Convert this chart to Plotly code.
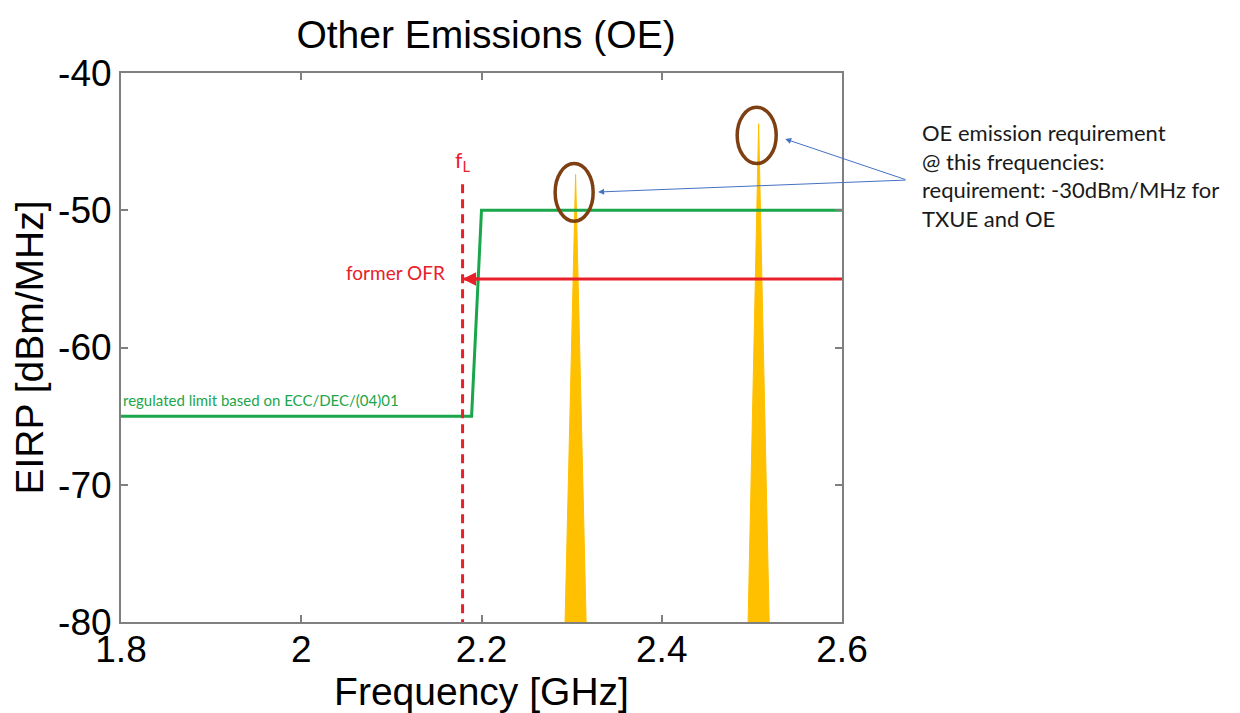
import plotly.graph_objects as go

# ---- data ----
limit_freq = [1.8, 2.189, 2.2, 2.6]          # GHz
limit_eirp = [-65, -65, -50, -50]            # dBm/MHz
f_L = 2.179                                   # GHz
f_L_top = -47.9
former_ofr = -55.0
spike_freq = [2.3044, 2.5075]                 # GHz
spike_peak = [-47.4, -43.7]                   # dBm/MHz
spike_halfwidth = 0.0117                      # GHz at -80 dBm
floor_level = -80
ellipse_x0 = [2.2817, 2.4837]
ellipse_x1 = [2.3239, 2.5270]
ellipse_y0 = [-50.8, -46.6]
ellipse_y1 = [-46.6, -42.5]
note_tail = (2.672, -47.8)
note_heads = [(2.3294, -48.67), (2.537, -44.81)]
note_lines = ["OE emission requirement", "@ this frequencies:",
              "requirement: -30dBm/MHz for", "TXUE and OE"]
x_ticks = [1.8, 2.0, 2.2, 2.4, 2.6]
x_ticklabels = ["1.8", "2", "2.2", "2.4", "2.6"]
y_ticks = [-80, -70, -60, -50, -40]
y_ticklabels = ["-80", "-70", "-60", "-50", "-40"]

GREEN = "#1AA64A"
RED = "#E8202A"
YELLOW = "#FFC000"
BROWN = "#7E3F12"
BLUE = "#4472C4"
AX = "#808080"

fig = go.Figure()

# emission spikes (filled triangles)
for c, p in zip(spike_freq, spike_peak):
    fig.add_trace(go.Scatter(
        x=[c - spike_halfwidth, c, c + spike_halfwidth, c - spike_halfwidth],
        y=[floor_level, p, floor_level, floor_level],
        fill="toself", fillcolor=YELLOW, mode="lines",
        line=dict(color=YELLOW, width=1), hoverinfo="skip", showlegend=False))

# regulated limit
fig.add_trace(go.Scatter(x=limit_freq, y=limit_eirp, mode="lines",
                         line=dict(color=GREEN, width=3), showlegend=False))

# former OFR line
fig.add_trace(go.Scatter(x=[f_L, 2.6], y=[former_ofr, former_ofr], mode="lines",
                         line=dict(color=RED, width=3), showlegend=False))

# f_L dashed line
fig.add_shape(type="line", x0=f_L, x1=f_L, y0=floor_level - 0.45, y1=f_L_top,
              xref="x", yref="y", line=dict(color=RED, width=3, dash="9px,6px"))

# ellipses
for x0, x1, y0, y1 in zip(ellipse_x0, ellipse_x1, ellipse_y0, ellipse_y1):
    fig.add_shape(type="circle", x0=x0, x1=x1, y0=y0, y1=y1, xref="x", yref="y",
                  line=dict(color=BROWN, width=3.5))

# former OFR arrow head
fig.add_annotation(x=f_L, y=former_ofr, ax=f_L + 0.02, ay=former_ofr, axref="x", ayref="y",
                   xref="x", yref="y", showarrow=True, arrowhead=2, arrowsize=0.9,
                   arrowwidth=3, arrowcolor=RED, text="")
fig.add_annotation(x=f_L - 0.017, y=former_ofr + 0.45, xref="x", yref="y", text="former OFR",
                   showarrow=False, xanchor="right", yanchor="middle",
                   font=dict(family="Lato", size=19, color=RED))
fig.add_annotation(x=f_L, y=f_L_top + 0.3, xref="x", yref="y",
                   text="f<sub>L</sub>", showarrow=False, xanchor="center", yanchor="bottom",
                   font=dict(family="Lato", size=21, color=RED))

# green label
fig.add_annotation(x=1.8005, y=-63.8, xref="x", yref="y",
                   text="regulated limit based on ECC/DEC/(04)01", showarrow=False,
                   xanchor="left", yanchor="middle",
                   font=dict(family="Lato", size=15, color=GREEN))

# blue arrows
for hx, hy in note_heads:
    fig.add_annotation(x=hx, y=hy, ax=note_tail[0], ay=note_tail[1], axref="x", ayref="y",
                       xref="x", yref="y", showarrow=True, arrowhead=2, arrowsize=1.2,
                       arrowwidth=1, arrowcolor=BLUE, text="")

# note text
fig.add_annotation(x=1.108, y=0.92, xref="paper", yref="paper", text="<br>".join(note_lines),
                   showarrow=False, xanchor="left", yanchor="top", align="left",
                   font=dict(family="Lato", size=22, color="#1a1a1a"))

fig.update_layout(
    width=1232, height=705,
    margin=dict(l=113, r=398, t=65, b=91),
    paper_bgcolor="white", plot_bgcolor="white",
    font=dict(family="Liberation Sans, Arial", color="black"),
    title=dict(text="Other Emissions (OE)", x=0.388, xanchor="center", y=0.962, yanchor="middle",
               font=dict(family="Liberation Sans", size=39, color="black")),
    showlegend=False,
)
fig.update_xaxes(range=[1.8, 2.6], tickvals=x_ticks, ticktext=x_ticklabels, automargin=False,
                 showgrid=False, zeroline=False, showline=True, linecolor=AX, linewidth=2,
                 mirror="ticks", ticks="inside", ticklen=7, tickcolor=AX, tickwidth=1.5,
                 ticklabelstandoff=-6,
                 tickfont=dict(family="Liberation Sans", size=37, color="black"),
                 title=dict(text="Frequency [GHz]", standoff=0,
                            font=dict(family="Liberation Sans", size=39, color="black")))
fig.update_yaxes(range=[-80, -40], tickvals=y_ticks, ticktext=y_ticklabels, automargin=False,
                 showgrid=False, zeroline=False, showline=True, linecolor=AX, linewidth=2,
                 mirror="ticks", ticks="inside", ticklen=7, tickcolor=AX, tickwidth=1.5,
                 tickfont=dict(family="Liberation Sans", size=37, color="black"),
                 title=dict(text="EIRP [dBm/MHz]", standoff=6,
                            font=dict(family="Liberation Sans", size=39, color="black")))

fig.write_html("out.html")
